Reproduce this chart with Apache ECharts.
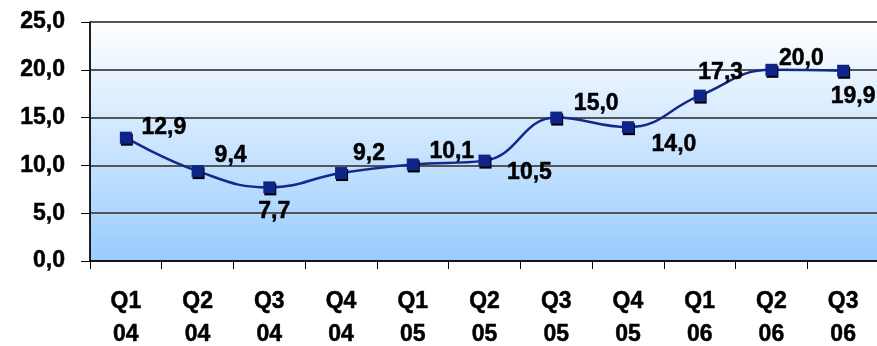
<!DOCTYPE html>
<html>
<head>
<meta charset="utf-8">
<script src="https://cdn.jsdelivr.net/npm/echarts@6/dist/echarts.min.js"></script>
<style>
  html, body { margin: 0; padding: 0; background: #fff; }
  #chart { width: 877px; height: 346px; }
</style>
</head>
<body>
<div id="chart"></div>
<script>
// Quarterly figures, 2004–2006
const quarters = ['Q1', 'Q2', 'Q3', 'Q4', 'Q1', 'Q2', 'Q3', 'Q4', 'Q1', 'Q2', 'Q3'];
const years    = ['04', '04', '04', '04', '05', '05', '05', '05', '06', '06', '06'];
const values   = [12.9, 9.4, 7.7, 9.2, 10.1, 10.5, 15.0, 14.0, 17.3, 20.0, 19.9];
const yTicks   = [0, 5, 10, 15, 20, 25];

// Where each value label sits relative to its marker (px)
const labelOffsets = [
  [38, -10], [33, -15], [5, 24], [28, -19], [39, -13], [45, 12],
  [40, -14], [46, 17], [21, -23], [30, -11], [10, 26]
];

const categories = quarters.map((q, i) => q + '\n' + years[i]);
const fmt = v => v.toFixed(1).replace('.', ',');

// Heavy bold text used for every label
const textStyle = {
  fontFamily: 'Liberation Sans', fontWeight: 'bold', fontSize: 23,
  color: '#000', textBorderColor: '#000', textBorderWidth: 0.5
};

const chart = echarts.init(document.getElementById('chart'));
chart.setOption({
  animation: false,
  grid: {
    left: 90, top: 22, bottom: 85, right: -2,
    outerBoundsMode: 'none',
    containLabel: false,
    show: true,
    borderColor: '#000', borderWidth: 1,
    backgroundColor: new echarts.graphic.LinearGradient(0, 0, 0, 1, [
      { offset: 0, color: '#ffffff' },
      { offset: 1, color: '#99ccff' }
    ])
  },
  xAxis: {
    type: 'category',
    data: categories,
    boundaryGap: true,
    axisLine: { lineStyle: { color: '#000', width: 1.5 } },
    axisTick: { show: true, length: 8, lineStyle: { color: '#000', width: 1 } },
    axisLabel: Object.assign({ interval: 0, margin: 24, lineHeight: 33 }, textStyle)
  },
  yAxis: {
    type: 'value',
    min: yTicks[0], max: yTicks[yTicks.length - 1], interval: yTicks[1] - yTicks[0],
    axisLine: { show: true, lineStyle: { color: '#000', width: 1.5 } },
    axisTick: { show: true, length: 9, lineStyle: { color: '#000', width: 1 } },
    axisLabel: Object.assign({ margin: 25, formatter: v => fmt(v) }, textStyle),
    splitLine: { show: true, lineStyle: { color: '#555', width: 2 } }
  },
  series: [{
    type: 'line',
    data: values.map((v, i) => ({
      value: v,
      label: { offset: labelOffsets[i] }
    })),
    smooth: 0.45,
    lineStyle: { color: '#13298c', width: 2.5 },
    symbol: 'rect',
    symbolSize: 12,
    itemStyle: {
      color: '#0f2489',
      shadowColor: '#000', shadowOffsetX: 1, shadowOffsetY: 2, shadowBlur: 0
    },
    label: Object.assign({
      show: true,
      position: 'inside',
      formatter: p => fmt(p.value)
    }, textStyle)
  }]
});
</script>
</body>
</html>
